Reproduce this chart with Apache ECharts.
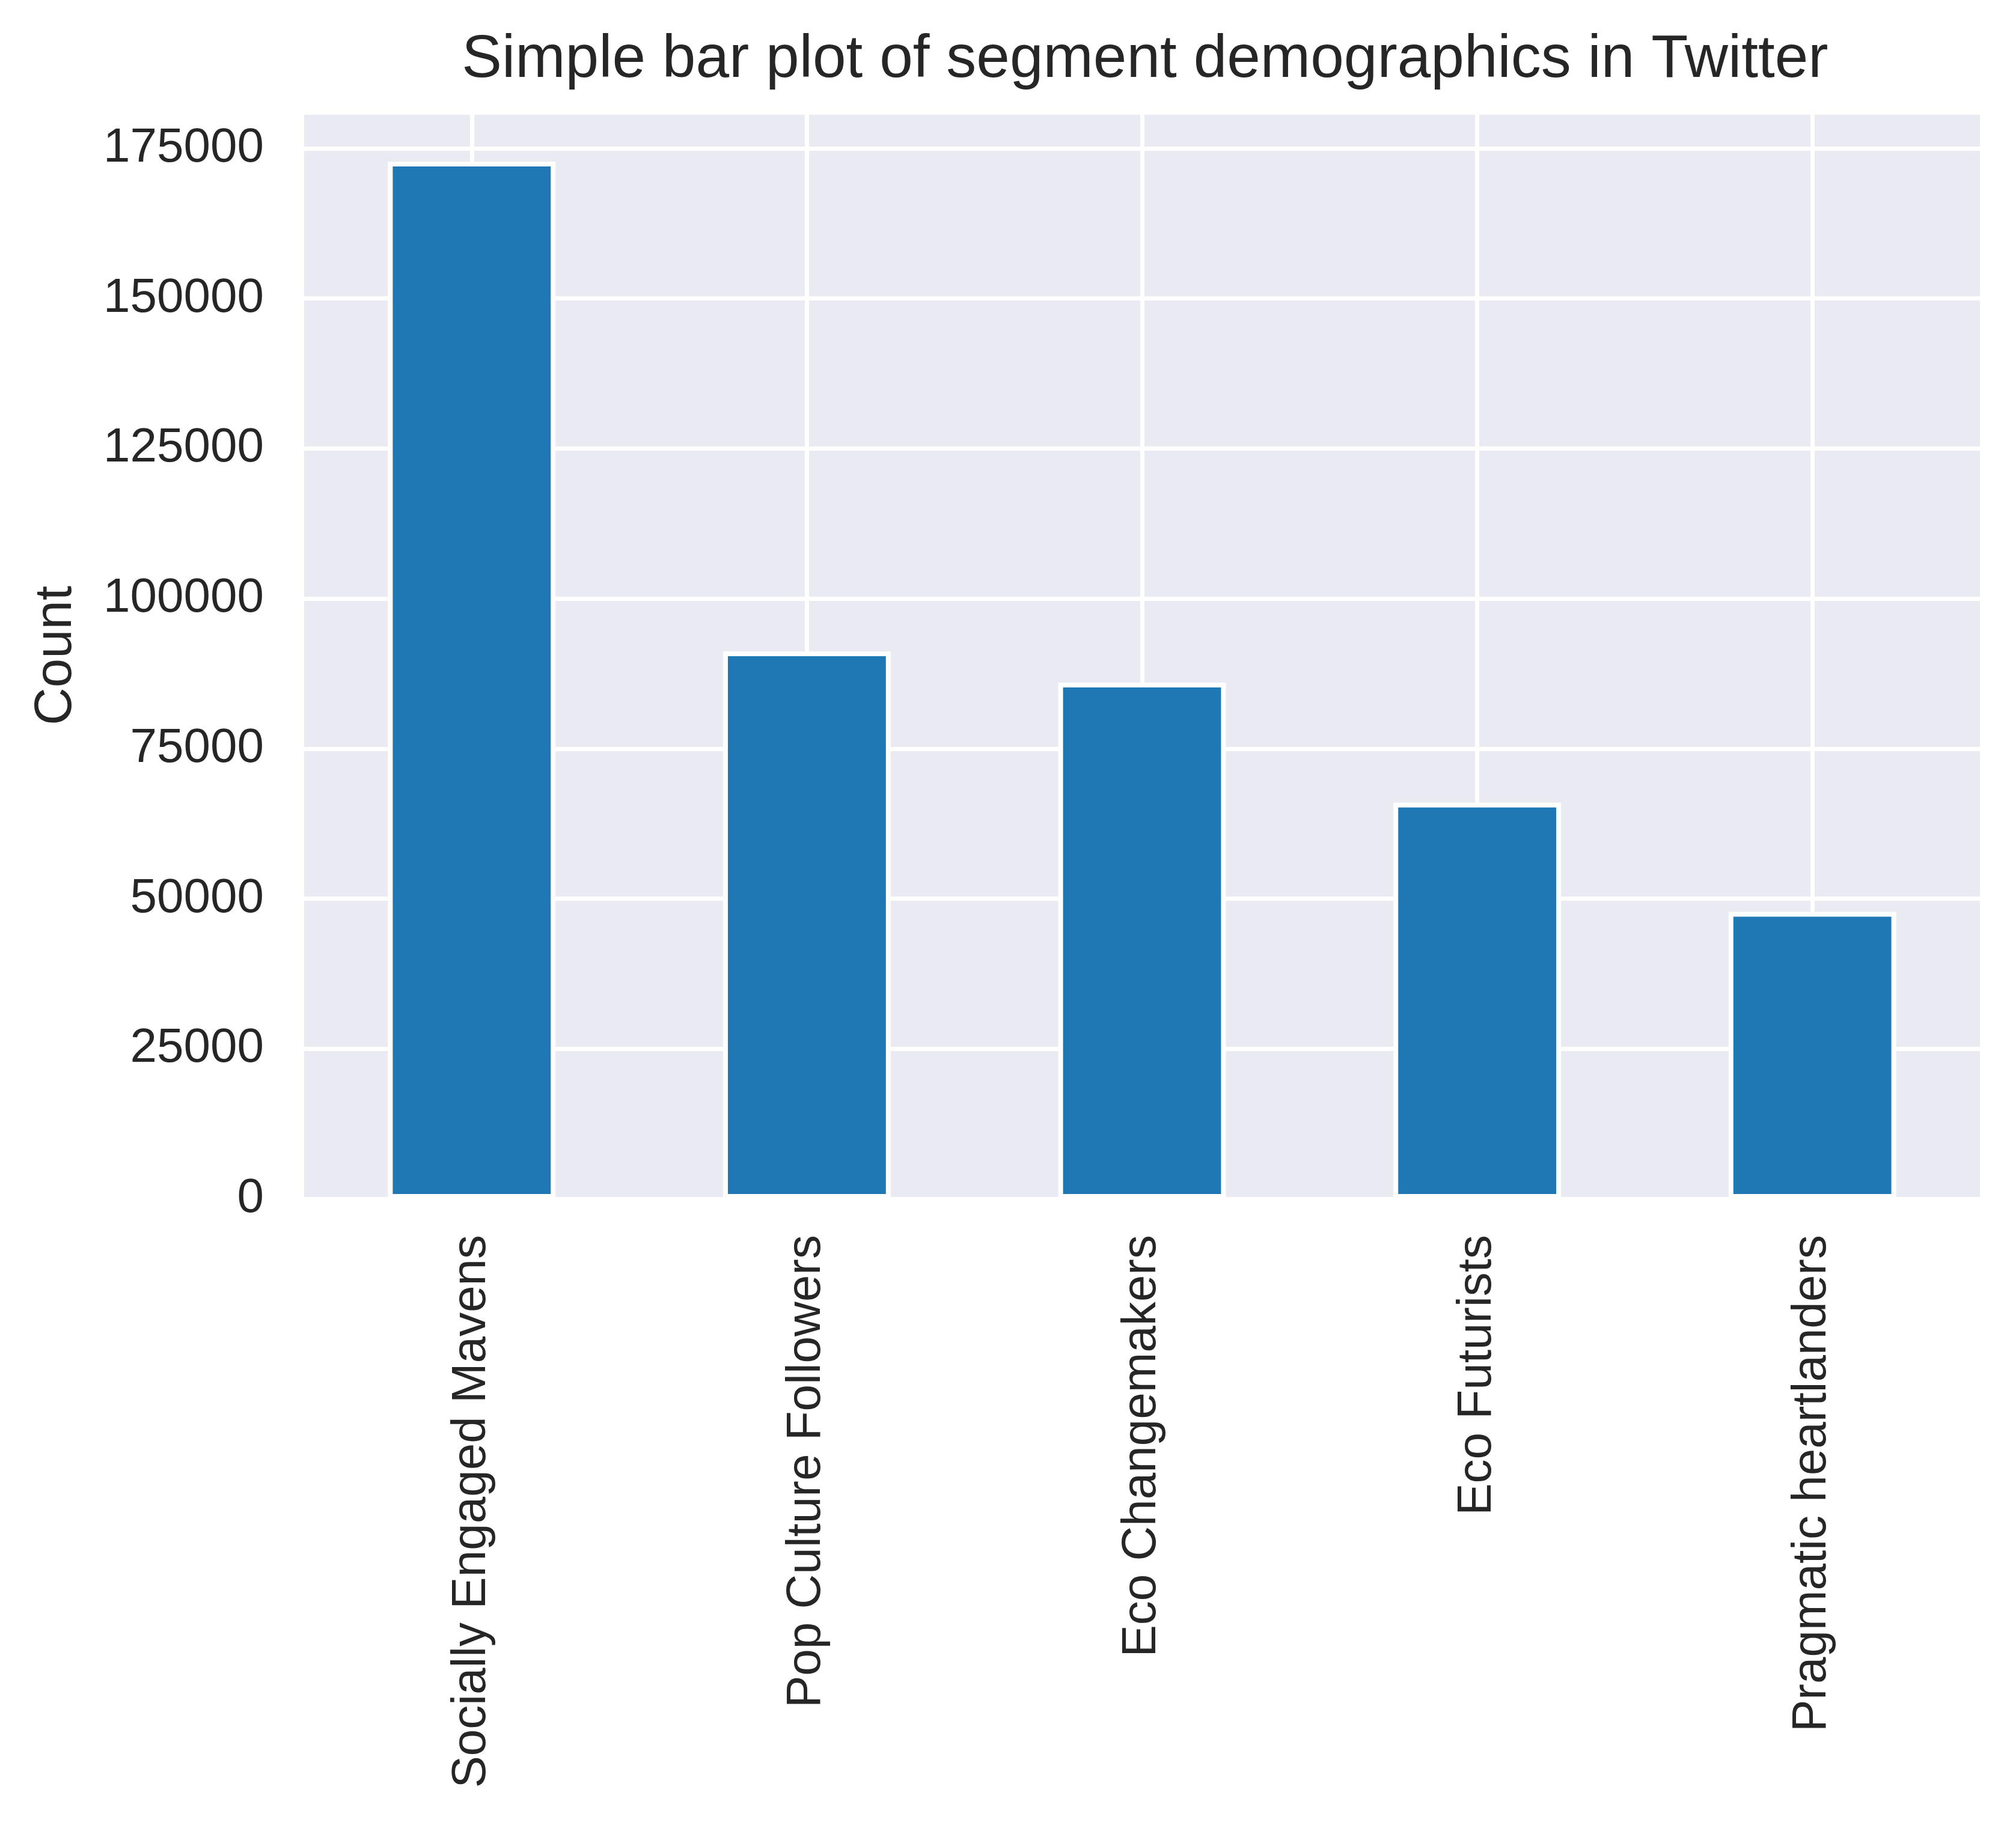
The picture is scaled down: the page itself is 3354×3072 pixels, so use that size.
<!DOCTYPE html>
<html>
<head>
<meta charset="utf-8">
<title>Segment demographics</title>
<script src="https://cdn.jsdelivr.net/npm/echarts@6/dist/echarts.min.js"></script>
<style>
  html, body { margin: 0; padding: 0; background: #fff; }
  #chart { width: 3354px; height: 3072px; }
</style>
</head>
<body>
<div id="chart"></div>
<script>
// segment names and counts
var segments = ['Socially Engaged Mavens', 'Pop Culture Followers', 'Eco Changemakers', 'Eco Futurists', 'Pragmatic heartlanders'];
var counts = [172800, 91200, 86000, 66000, 47800];
var yStep = 25000;
var yMax = 181000;

var font = "'Liberation Sans', Arial, sans-serif";
var ink = '#262626';

var myChart = echarts.init(document.getElementById('chart'));
myChart.setOption({
    backgroundColor: '#ffffff',
    animation: false,
    title: {
        text: 'Simple bar plot of segment demographics in Twitter',
        left: 1900,
        textAlign: 'center',
        top: 45,
        textStyle: { fontFamily: font, fontSize: 100, fontWeight: 'normal', color: ink }
    },
    grid: {
        left: 506, right: 60, top: 187, bottom: 1077,
        show: true, backgroundColor: '#EAEAF2', borderWidth: 0,
        containLabel: false
    },
    xAxis: {
        type: 'category',
        data: segments,
        boundaryGap: true,
        axisLine: { show: false },
        axisTick: { show: false },
        axisLabel: {
            rotate: 90, margin: 60, interval: 0,
            fontFamily: font, fontSize: 80, color: ink
        },
        splitLine: {
            show: true, interval: 0, alignWithLabel: true,
            lineStyle: { color: '#ffffff', width: 7 }
        }
    },
    yAxis: {
        type: 'value',
        min: 0,
        max: yMax,
        interval: yStep,
        name: 'Count',
        nameLocation: 'middle',
        nameRotate: 90,
        nameGap: 368,
        nameTextStyle: { fontFamily: font, fontSize: 87, color: ink },
        axisLine: { show: false },
        axisTick: { show: false },
        axisLabel: {
            margin: 67, showMaxLabel: false,
            formatter: function (v) { return String(v); },
            fontFamily: font, fontSize: 80, color: ink
        },
        splitLine: { show: true, lineStyle: { color: '#ffffff', width: 7 } }
    },
    series: [{
        type: 'bar',
        data: counts,
        barWidth: '50%',
        itemStyle: { color: '#1f77b4', borderColor: '#ffffff', borderWidth: 8 }
    }]
});
</script>
</body>
</html>
